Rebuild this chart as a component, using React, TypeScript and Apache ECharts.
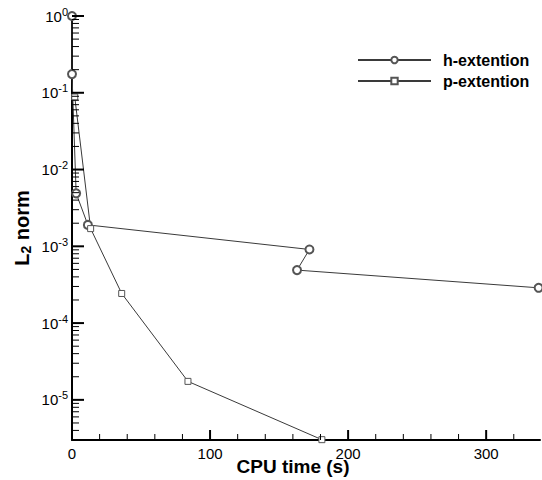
import React, { useEffect, useRef } from "react";
import * as echarts from "echarts";

const hTime = [0, 0, 3, 11.5, 172, 163, 338];
const hNorm = [1.0, 0.175, 0.0049, 0.0019, 0.00091, 0.00049, 0.000288];
const pTime = [2, 13.5, 36, 84, 181];
const pNorm = [0.088, 0.0017, 0.000243, 0.0000174, 0.00000303];
const xTickLabels = ["0", "100", "200", "300"];
const xMajorTicks = [100, 200, 300];
const xMinorTicks = [20, 40, 60, 80, 120, 140, 160, 180, 220, 240, 260, 280, 320];
const yMajorExps = [0, -1, -2, -3, -4, -5];
const minorMantissas = [2, 3, 4, 5, 6, 7, 8, 9];
const decades = [-6, -5, -4, -3, -2, -1];

const Y_MIN = 3e-6;
const Y_MAX = 1;
const TICK = "#000";

export default function App() {
  const ref = useRef<HTMLDivElement>(null);
  useEffect(() => {
    if (!ref.current) return;
    const chart = echarts.init(ref.current, null, { renderer: "svg" });
    const yMinorVals: number[][] = [];
    decades.forEach((d) => {
      minorMantissas.forEach((m) => {
        const v = m * Math.pow(10, d);
        if (v >= Y_MIN && v <= Y_MAX) yMinorVals.push([0, v]);
      });
    });
    const yMajorVals = yMajorExps.map((e) => [0, Math.pow(10, e)]);
    const xMajorVals = xMajorTicks.map((v) => [v, Y_MIN]);
    const xMinorVals = xMinorTicks.map((v) => [v, Y_MIN]);

    const yTickSeries = (data: number[][], len: number, w: number) => ({
      type: "custom",
      data,
      clip: false,
      silent: true,
      z: 6,
      renderItem: (params: any, api: any) => {
        const p = api.coord([api.value(0), api.value(1)]);
        return {
          type: "rect",
          shape: { x: p[0], y: p[1] - w / 2, width: len, height: w },
          style: { fill: TICK },
        };
      },
    });
    const xTickSeries = (data: number[][], len: number, w: number) => ({
      type: "custom",
      data,
      clip: false,
      silent: true,
      z: 6,
      renderItem: (params: any, api: any) => {
        const p = api.coord([api.value(0), api.value(1)]);
        return {
          type: "rect",
          shape: { x: p[0] - w / 2, y: p[1] - len, width: w, height: len },
          style: { fill: TICK },
        };
      },
    });

    const font = "Liberation Sans, Arial, sans-serif";
    chart.setOption({
      animation: false,
      backgroundColor: "#fff",
      textStyle: { fontFamily: font },
      grid: { left: 72, right: 2, top: 16, bottom: 40, containLabel: false, outerBoundsMode: "none" },
      legend: {
        data: ["h-extention", "p-extention"],
        orient: "vertical",
        left: 357,
        top: 52,
        padding: 0,
        itemWidth: 73,
        itemHeight: 8,
        itemGap: 5,
        textStyle: { fontFamily: font, fontSize: 16, fontWeight: "bold", color: "#000", padding: [0, 0, 0, 7] },
      },
      xAxis: {
        type: "value",
        min: 0,
        max: 339,
        interval: 100,
        name: "CPU time (s)",
        nameLocation: "middle",
        nameGap: 17,
        nameMoveOverlap: false,
        nameTextStyle: { fontFamily: font, fontSize: 19, fontWeight: "bold", color: "#000", padding: [0, 26, 0, 0] },
        axisLine: { show: true, onZero: false, lineStyle: { color: "#000", width: 2 } },
        axisTick: { show: false },
        minorTick: { show: false },
        splitLine: { show: false },
        minorSplitLine: { show: false },
        axisLabel: {
          showMaxLabel: false,
          fontFamily: font,
          fontSize: 15,
          color: "#000",
          margin: 6,
          formatter: (v: number) => {
            const i = Math.round(v / 100);
            return Math.abs(v - i * 100) < 1e-6 && xTickLabels[i] !== undefined ? xTickLabels[i] : "";
          },
        },
      },
      yAxis: {
        type: "log",
        logBase: 10,
        min: Y_MIN,
        max: Y_MAX,
        name: "L{sub|2} norm",
        nameLocation: "middle",
        nameGap: 39,
        nameRotate: 90,
        nameMoveOverlap: false,
        nameTextStyle: {
          fontFamily: font,
          fontSize: 20,
          fontWeight: "bold",
          color: "#000",
          rich: {
            sub: { fontFamily: font, fontSize: 14, fontWeight: "bold", color: "#000", padding: [8, 0, 0, 0] },
          },
        },
        axisLine: { show: true, onZero: false, lineStyle: { color: "#000", width: 2 } },
        axisTick: { show: false },
        splitLine: { show: false },
        axisLabel: {
          showMinLabel: false,
          fontFamily: font,
          color: "#000",
          margin: 4,
          formatter: (v: number) => {
            const e = Math.round(Math.log10(v));
            if (Math.abs(Math.log10(v) - e) > 1e-6) return "";
            return "{b|10}{s|" + e + "}";
          },
          rich: {
            b: { fontFamily: font, fontSize: 15, color: "#000" },
            s: { fontFamily: font, fontSize: 11, color: "#000", padding: [0, 0, 9, 0] },
          },
        },
      },
      series: [
        {
          name: "h-extention",
          type: "line",
          data: hTime.map((t, i) => [t, hNorm[i]]),
          symbol: "emptyCircle",
          symbolSize: 8,
          lineStyle: { color: "#3a3a3a", width: 1 },
          itemStyle: { color: "#555", borderColor: "#555", borderWidth: 1 },
          z: 3,
        },
        {
          name: "p-extention",
          type: "line",
          data: pTime.map((t, i) => [t, pNorm[i]]),
          symbol: "rect",
          symbolSize: 6,
          lineStyle: { color: "#3a3a3a", width: 1 },
          itemStyle: { color: "#fff", borderColor: "#555", borderWidth: 1 },
          z: 3,
        },
        yTickSeries(yMajorVals, 12, 2),
        yTickSeries(yMinorVals, 7, 1),
        xTickSeries(xMajorVals, 10, 2),
        xTickSeries(xMinorVals, 6, 1),
      ],
    });
    return () => chart.dispose();
  }, []);
  return <div ref={ref} style={{ width: 542, height: 480, position: "absolute", left: 0, top: 0 }} />;
}
